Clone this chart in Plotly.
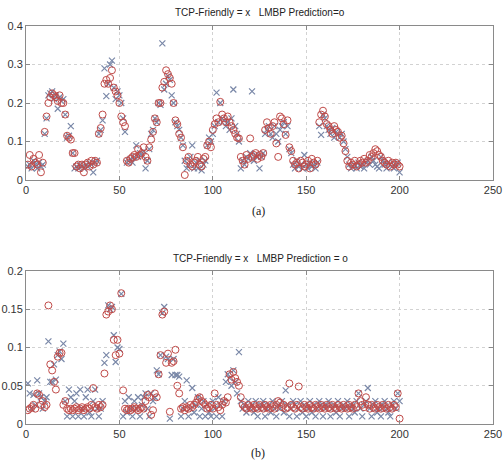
import plotly.graph_objects as go

idx = list(range(1, 201))

tcp_a = [0.035, 0.04, 0.03, 0.05, 0.04, 0.03, 0.045, 0.035, 0.04, 0.12,
         0.16, 0.22, 0.225, 0.23, 0.21, 0.22, 0.185, 0.215, 0.205, 0.21,
         0.17, 0.11, 0.115, 0.14, 0.07, 0.03, 0.035, 0.03, 0.04, 0.035,
         0.03, 0.04, 0.035, 0.045, 0.04, 0.02, 0.045, 0.05, 0.12, 0.13,
         0.155, 0.29, 0.218, 0.25, 0.3, 0.31, 0.24, 0.21, 0.23, 0.22,
         0.2, 0.16, 0.125, 0.045, 0.05, 0.055, 0.045, 0.06, 0.09, 0.06,
         0.07, 0.065, 0.075, 0.03, 0.05, 0.08, 0.12, 0.13, 0.16, 0.15,
         0.2, 0.195, 0.355, 0.235, 0.25, 0.27, 0.26, 0.22, 0.2, 0.15,
         0.14, 0.13, 0.11, 0.09, 0.05, 0.03, 0.04, 0.06, 0.09, 0.03,
         0.045, 0.03, 0.05, 0.025, 0.04, 0.05, 0.09, 0.11, 0.1, 0.12,
         0.14, 0.227, 0.15, 0.2, 0.16, 0.155, 0.14, 0.15, 0.13, 0.16,
         0.235, 0.14, 0.12, 0.1, 0.03, 0.05, 0.04, 0.06, 0.055, 0.07,
         0.23, 0.05, 0.065, 0.06, 0.03, 0.06, 0.07, 0.12, 0.13, 0.14,
         0.12, 0.11, 0.14, 0.12, 0.1, 0.13, 0.14, 0.15, 0.12, 0.14,
         0.08, 0.07, 0.04, 0.03, 0.05, 0.035, 0.04, 0.03, 0.065, 0.04,
         0.03, 0.045, 0.035, 0.04, 0.03, 0.045, 0.14, 0.117, 0.17, 0.16,
         0.14, 0.13, 0.12, 0.135, 0.11, 0.125, 0.12, 0.11, 0.12, 0.1,
         0.08, 0.06, 0.04, 0.03, 0.035, 0.04, 0.03, 0.045, 0.035, 0.04,
         0.03, 0.045, 0.05, 0.04, 0.06, 0.05, 0.04, 0.035, 0.03, 0.06,
         0.05, 0.04, 0.03, 0.045, 0.04, 0.035, 0.03, 0.04, 0.045, 0.02]

lmbp_a = [0.04, 0.065, 0.035, 0.055, 0.045, 0.04, 0.065, 0.02, 0.045, 0.125,
          0.165, 0.2, 0.215, 0.225, 0.22, 0.215, 0.205, 0.22, 0.2, 0.2,
          0.17, 0.115, 0.11, 0.105, 0.07, 0.07, 0.035, 0.04, 0.03, 0.04,
          0.02, 0.04, 0.045, 0.035, 0.05, 0.04, 0.05, 0.045, 0.12, 0.135,
          0.17, 0.25, 0.26, 0.25, 0.265, 0.285, 0.24, 0.23, 0.22, 0.2,
          0.165, 0.15, 0.14, 0.05, 0.045, 0.055, 0.06, 0.065, 0.06, 0.08,
          0.065, 0.07, 0.085, 0.06, 0.05, 0.085, 0.105, 0.125, 0.16, 0.15,
          0.2, 0.2, 0.24, 0.255, 0.285, 0.275, 0.265, 0.25, 0.2, 0.155,
          0.145, 0.12, 0.11, 0.085, 0.013, 0.05, 0.06, 0.04, 0.035, 0.045,
          0.05, 0.06, 0.04, 0.035, 0.055, 0.06, 0.09, 0.1, 0.085, 0.13,
          0.145, 0.16, 0.15, 0.203, 0.17, 0.16, 0.15, 0.165, 0.15, 0.14,
          0.13, 0.12, 0.11, 0.108, 0.06, 0.05, 0.04, 0.065, 0.055, 0.108,
          0.06, 0.065, 0.07, 0.055, 0.065, 0.06, 0.07, 0.13, 0.15, 0.135,
          0.12, 0.14, 0.15, 0.095, 0.06, 0.165, 0.16, 0.145, 0.117, 0.155,
          0.085, 0.075, 0.05, 0.04, 0.045, 0.03, 0.05, 0.045, 0.035, 0.04,
          0.05, 0.03, 0.055, 0.045, 0.04, 0.05, 0.15, 0.17, 0.18, 0.165,
          0.145, 0.14, 0.13, 0.12, 0.14, 0.13, 0.125, 0.11, 0.115, 0.095,
          0.075, 0.05, 0.035, 0.045, 0.04, 0.05, 0.035, 0.04, 0.05, 0.045,
          0.055, 0.045, 0.05, 0.065, 0.06, 0.07, 0.08, 0.075, 0.065, 0.06,
          0.05, 0.045, 0.04, 0.05, 0.035, 0.045, 0.04, 0.045, 0.04, 0.035]

tcp_b = [0.053, 0.04, 0.02, 0.038, 0.025, 0.057, 0.04, 0.035, 0.02, 0.03,
         0.035, 0.108, 0.055, 0.055, 0.078, 0.058, 0.09, 0.095, 0.085, 0.105,
         0.03, 0.01, 0.045, 0.035, 0.01, 0.03, 0.04, 0.01, 0.045, 0.02,
         0.01, 0.035, 0.045, 0.015, 0.01, 0.03, 0.045, 0.02, 0.01, 0.02,
         0.03, 0.08, 0.09, 0.155, 0.15, 0.153, 0.116, 0.081, 0.1, 0.098,
         0.17, 0.01, 0.03, 0.015, 0.035, 0.02, 0.01, 0.03, 0.02, 0.035,
         0.01, 0.025, 0.035, 0.04, 0.02, 0.01, 0.04, 0.03, 0.035, 0.07,
         0.065, 0.09, 0.145, 0.153, 0.088, 0.085, 0.007, 0.064, 0.085, 0.064,
         0.064, 0.062, 0.01, 0.02, 0.03, 0.057, 0.01, 0.02, 0.047, 0.015,
         0.025, 0.035, 0.01, 0.02, 0.03, 0.01, 0.025, 0.015, 0.01, 0.03,
         0.02, 0.01, 0.035, 0.025, 0.01, 0.03, 0.055, 0.065, 0.06, 0.05,
         0.07, 0.055, 0.04, 0.094, 0.03, 0.02, 0.025, 0.015, 0.03, 0.02,
         0.025, 0.015, 0.03, 0.01, 0.02, 0.025, 0.03, 0.01, 0.02, 0.025,
         0.015, 0.03, 0.02, 0.01, 0.025, 0.02, 0.03, 0.015, 0.044, 0.025,
         0.01, 0.02, 0.03, 0.025, 0.01, 0.02, 0.03, 0.015, 0.025, 0.01,
         0.02, 0.03, 0.015, 0.025, 0.01, 0.02, 0.03, 0.025, 0.01, 0.02,
         0.025, 0.03, 0.01, 0.02, 0.025, 0.015, 0.03, 0.01, 0.02, 0.025,
         0.02, 0.03, 0.01, 0.025, 0.02, 0.015, 0.03, 0.04, 0.02, 0.01,
         0.025, 0.03, 0.047, 0.02, 0.01, 0.025, 0.03, 0.015, 0.02, 0.01,
         0.025, 0.03, 0.02, 0.015, 0.01, 0.025, 0.03, 0.02, 0.04, 0.03]

lmbp_b = [0.018, 0.02, 0.022, 0.025, 0.02, 0.04, 0.038, 0.025, 0.03, 0.022,
          0.025, 0.155, 0.078, 0.07, 0.055, 0.045, 0.088, 0.093, 0.093, 0.025,
          0.03, 0.02, 0.018, 0.02, 0.018, 0.02, 0.022, 0.018, 0.02, 0.022,
          0.018, 0.02, 0.022, 0.02, 0.025, 0.047, 0.022, 0.02, 0.025, 0.022,
          0.025, 0.066, 0.143, 0.147, 0.155, 0.15, 0.11, 0.09, 0.11, 0.092,
          0.171, 0.044, 0.02, 0.018, 0.02, 0.018, 0.02, 0.022, 0.02, 0.018,
          0.02, 0.022, 0.02, 0.03, 0.038, 0.035, 0.012, 0.018, 0.04, 0.035,
          0.065, 0.09, 0.143, 0.147, 0.08, 0.092, 0.016, 0.08, 0.082, 0.097,
          0.05, 0.04, 0.02, 0.022, 0.018, 0.022, 0.02, 0.025, 0.022, 0.025,
          0.028, 0.033, 0.035, 0.03, 0.028, 0.025, 0.02, 0.022, 0.025, 0.02,
          0.04, 0.025, 0.022, 0.018, 0.025, 0.03, 0.028, 0.035, 0.065, 0.058,
          0.068, 0.06, 0.055, 0.05, 0.035, 0.025, 0.022, 0.02, 0.025, 0.022,
          0.02, 0.025, 0.022, 0.02, 0.025, 0.022, 0.02, 0.025, 0.022, 0.02,
          0.025, 0.022, 0.02, 0.025, 0.03, 0.028, 0.022, 0.025, 0.02, 0.022,
          0.053, 0.025, 0.022, 0.02, 0.025, 0.049, 0.022, 0.02, 0.025, 0.022,
          0.02, 0.025, 0.022, 0.02, 0.025, 0.022, 0.02, 0.025, 0.022, 0.02,
          0.025, 0.022, 0.02, 0.025, 0.022, 0.02, 0.025, 0.022, 0.02, 0.025,
          0.022, 0.02, 0.025, 0.022, 0.02, 0.025, 0.022, 0.04, 0.03, 0.025,
          0.022, 0.035, 0.025, 0.02, 0.025, 0.022, 0.02, 0.025, 0.022, 0.02,
          0.025, 0.022, 0.02, 0.025, 0.022, 0.02, 0.025, 0.022, 0.04, 0.007]

x_ticks = [0, 50, 100, 150, 200, 250]
y_ticks_a = [0, 0.1, 0.2, 0.3, 0.4]
y_ticks_b = [0, 0.05, 0.1, 0.15, 0.2]
title_a = "TCP-Friendly = x   LMBP Prediction=o"
title_b = "TCP-Friendly = x   LMBP Prediction = o"

W, H = 503, 468
X_COLOR = "#7a88a8"
O_COLOR = "#c04a48"

fig = go.Figure()
for xs, ys, xa, ya in [(tcp_a, lmbp_a, "x", "y"), (tcp_b, lmbp_b, "x2", "y2")]:
    fig.add_trace(go.Scatter(x=idx, y=xs, mode="markers", xaxis=xa, yaxis=ya,
                             marker=dict(symbol="x-thin-open", size=6, color=X_COLOR,
                                         line=dict(color=X_COLOR, width=1.2)),
                             showlegend=False))
    fig.add_trace(go.Scatter(x=idx, y=ys, mode="markers", xaxis=xa, yaxis=ya,
                             marker=dict(symbol="circle-open", size=7,
                                         color=O_COLOR,
                                         line=dict(color=O_COLOR, width=1)),
                             showlegend=False))

dom_x = [26 / W, 493 / W]
axis_common = dict(showline=True, mirror="ticks", linecolor="#8a8a8a", linewidth=1,
                   ticks="inside", ticklen=4, tickcolor="#8a8a8a",
                   showgrid=True, gridcolor="#d2d2d2", griddash="dot", gridwidth=1,
                   zeroline=False, automargin=False,
                   tickfont=dict(family="Liberation Sans, Arial", size=11, color="#333333"))

fig.update_layout(
    width=W, height=H,
    margin=dict(l=0, r=0, t=0, b=0),
    paper_bgcolor="white", plot_bgcolor="white",
    template="none",
    xaxis=dict(domain=dom_x, range=[0, 250], tickvals=x_ticks, anchor="y", **axis_common),
    yaxis=dict(domain=[1 - 180 / H, 1 - 26 / H], range=[0, 0.4], tickvals=y_ticks_a,
               anchor="x", **axis_common),
    xaxis2=dict(domain=dom_x, range=[0, 250], tickvals=x_ticks, anchor="y2", **axis_common),
    yaxis2=dict(domain=[1 - 424 / H, 1 - 271 / H], range=[0, 0.2], tickvals=y_ticks_b,
                anchor="x2", **axis_common),
)

ann_font = dict(family="Liberation Sans, Arial", size=10, color="#222222")
fig.add_annotation(x=260 / W, y=1 - 12 / H, xref="paper", yref="paper", text=title_a,
                   showarrow=False, font=ann_font, xanchor="center", yanchor="middle")
fig.add_annotation(x=260 / W, y=1 - 258 / H, xref="paper", yref="paper", text=title_b,
                   showarrow=False, font=ann_font, xanchor="center", yanchor="middle")
lab_font = dict(family="Liberation Serif, Times New Roman", size=12, color="#222222")
fig.add_annotation(x=258 / W, y=1 - 211 / H, xref="paper", yref="paper", text="(a)",
                   showarrow=False, font=lab_font, xanchor="center", yanchor="middle")
fig.add_annotation(x=258 / W, y=1 - 453 / H, xref="paper", yref="paper", text="(b)",
                   showarrow=False, font=lab_font, xanchor="center", yanchor="middle")

fig.write_html("out.html", config={"displayModeBar": False},
               post_script="document.body.style.margin='0px';document.body.style.overflow='hidden';")
